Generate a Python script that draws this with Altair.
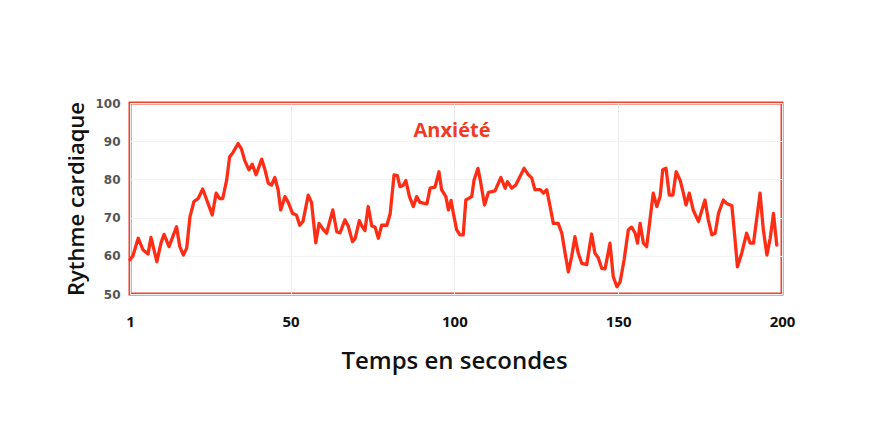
import altair as alt
import pandas as pd

# Heart rate trace (vertices)
time_s = [
    1, 1.9, 3.5, 5, 6.5, 7.4, 9.2, 10.5, 11.4, 12.9, 15.2, 16.2, 17.3, 18.3, 19.3,
    20.5, 21.8, 23.2, 24.6, 26.1, 27.3, 28.3, 29.3, 30.5, 31.4, 32.4, 34, 35, 36,
    37.3, 38.3, 39.5, 41.2, 42.2, 43.2, 44.2, 45.2, 46.2, 47, 48.3, 49.3, 50.6,
    51.8, 52.8, 53.8, 55.4, 56.4, 57.7, 58.7, 59.9, 61, 62.9, 64.1, 65.1, 66.6,
    67.6, 68.9, 69.7, 71, 71.7, 72.7, 73.7, 74.8, 75.8, 76.8, 77.8, 79.4, 80.4,
    81.6, 82.6, 83.4, 84.4, 85.2, 86.3, 87.5, 88.5, 89.5, 91.6, 92.6, 94.1, 95.3,
    96.1, 97.4, 98.2, 99, 99.7, 100.7, 101.7, 102.7, 103.5, 105.3, 106, 107.2,
    108, 109.2, 110.4, 112.4, 114.2, 115.5, 116.2, 117.5, 118.7, 120, 121.3,
    122.6, 123.6, 124.6, 126.2, 127.2, 128.2, 129.2, 130.2, 131.7, 132.8, 133.8,
    134.8, 135.8, 136.8, 137.8, 138.9, 140.4, 141.9, 142.9, 143.9, 145, 146,
    147.5, 148.5, 149.6, 150.6, 151.8, 153.1, 154.1, 155.2, 155.9, 156.7, 157.7,
    158.7, 159.7, 160.7, 161.8, 162.8, 163.6, 164.6, 165.6, 166.7, 167.7, 168.9,
    169.9, 170.7, 171.7, 172.9, 174.5, 176.5, 177.5, 178.6, 179.6, 180.6, 182.1,
    183.1, 184.7, 185.4, 186.4, 187.7, 189.2, 190.3, 191.3, 193.3, 194.3, 195.4,
    196.4, 197.4, 198.4,
]
bpm = [
    59, 60, 64.6, 61.5, 60.5, 64.8, 58.5, 63.5, 65.6, 62.4, 67.6, 62.4, 60.2, 62, 70.2,
    74.2, 75, 77.5, 74.2, 70.7, 76.4, 75, 75, 79.8, 85.9, 87, 89.4, 88, 85,
    82.5, 84, 81.2, 85.3, 82.5, 79, 78.5, 80.5, 77.3, 72, 75.5, 74, 71.1,
    70.7, 68, 69, 75.9, 74, 63.4, 68.5, 67, 65.9, 72, 66.3, 66, 69.4,
    67.8, 63.7, 64.5, 69.2, 67.9, 66.6, 72.9, 67.8, 67.5, 64.6, 68, 68, 71,
    81.2, 81, 78.1, 78.5, 79.7, 75.5, 72.9, 75.5, 74, 73.6, 77.7, 78, 82,
    77.3, 75.5, 72, 74.5, 71.1, 66.8, 65.5, 65.5, 74.6, 75.5, 79.8, 82.9,
    79.4, 73.3, 76.6, 77, 80.5, 77.7, 79.4, 77.7, 78.5, 80.7, 82.9,
    81.2, 80.4, 77.3, 77.3, 76.4, 77.3, 73, 68.5, 68.5, 65.9, 60.7,
    55.8, 59.8, 65, 60.7, 58, 57.7, 65.7, 60.7, 59.5, 56.7, 56.6,
    63.3, 54.5, 51.9, 53.2, 58.9, 66.8, 67.5, 65.9, 63.3, 68.5, 63.3,
    62.4, 69.4, 76.4, 72.9, 75.5, 82.5, 82.9, 75.9, 75.9, 82, 79.8,
    76.4, 73.3, 76.4, 72, 69, 74.6, 69.4, 65.5, 65.9, 71.1, 74.6,
    73.7, 73.1, 66.8, 57.1, 60.7, 65.9, 63.3, 63.3, 76.4, 66.8, 60.2,
    64.6, 71.1, 62.8,
]

x_ticks = [1, 50, 100, 150, 200]
y_ticks = [50, 60, 70, 80, 90, 100]
label = "Anxiété"

RED = "#ff2d16"
W, H = 652, 191

df = pd.DataFrame({"t": time_s, "bpm": bpm})

line = alt.Chart(df).mark_line(
    color=RED, strokeWidth=3.3, strokeJoin="round", strokeCap="round"
).encode(
    x=alt.X(
        "t:Q",
        scale=alt.Scale(domain=[1, 200], nice=False, zero=False),
        axis=alt.Axis(
            values=x_ticks,
            title="Temps en secondes",
            titleX=324,
            titleY=74,
            titleBaseline="alphabetic",
            titleFont="Open Sans",
            titleFontSize=24,
            titleFontWeight=600,
            titleColor="#111",
            labelFont="Open Sans",
            labelFontSize=15,
            labelFontWeight="bold",
            labelColor="#111",
            labelBaseline="middle",
            labelPadding=27,
            labelFlush=False,
            ticks=False,
            tickSize=0,
            domain=False,
            grid=True,
            gridColor="#ececec",
        ),
    ),
    y=alt.Y(
        "bpm:Q",
        scale=alt.Scale(domain=[50, 100], nice=False, zero=False),
        axis=alt.Axis(
            values=y_ticks,
            title="Rythme cardiaque",
            titleX=-47,
            titleY=H / 2,
            titleAngle=-90,
            titleBaseline="alphabetic",
            titleFont="Open Sans",
            titleFontSize=22,
            titleFontWeight=600,
            titleColor="#111",
            labelFont="DejaVu Sans",
            labelFontSize=12,
            labelFontWeight="bold",
            labelColor="#555",
            labelPadding=10,
            ticks=False,
            tickSize=0,
            domain=False,
            grid=True,
            gridColor="#f3f3f3",
        ),
    ),
)

title_text = alt.Chart(pd.DataFrame({"label": [label]})).mark_text(
    font="Open Sans", fontSize=20, fontWeight="bold", color="#f03a22",
    align="center", baseline="alphabetic",
).encode(text="label:N", x=alt.value(322), y=alt.value(34))

chart = (
    (line + title_text)
    .properties(
        width=W,
        height=H,
        autosize=alt.AutoSizeParams(type="none"),
        padding={"left": 122, "top": 95, "right": 90, "bottom": 120},
    )
    .configure_view(stroke="#f2412c", strokeWidth=3)
)

chart.save("out.html", embed_options={"renderer": "svg", "actions": False})
